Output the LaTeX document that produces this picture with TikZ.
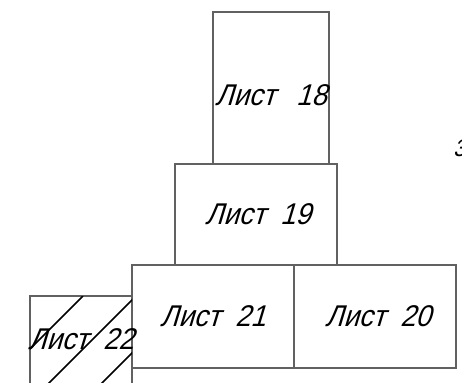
\documentclass[tikz,border=0pt]{standalone}
\usepackage{fontspec}
\setmainfont{Liberation Sans}[FakeSlant=0.3,FakeStretch=0.92]
\begin{document}
\begin{tikzpicture}[x=1pt,y=-1pt,
  sheet/.style={draw=black!62,line width=1.8pt},
  hatch/.style={draw=black,line width=1.6pt},
  lbl/.style={inner sep=0pt,font=\fontsize{30}{30}\selectfont}]
\useasboundingbox (0,0) rectangle (462,382);
% rectangles
\draw[sheet] (213,12) rectangle (329,164);
\draw[sheet] (175,164) rectangle (337,265);
\draw[sheet] (132,265) rectangle (294,368);
\draw[sheet] (294,265) rectangle (456,368);
\draw[sheet] (132,400) -- (30,400) -- (30,296) -- (132,296) -- (132,400);
% hatching
\begin{scope}
\clip (30,296) rectangle (132,400);
\draw[hatch] (83,296) -- (30,349);
\draw[hatch] (136,296) -- (22,410);
\draw[hatch] (189,296) -- (75,410);
\end{scope}
% labels
\node[lbl] (l18) at (271,95) {Лист\hspace{0.7em}18};
\node[lbl] (l19) at (258,214) {Лист\hspace{0.5em}19};
\node[lbl] (l21) at (213,316) {Лист\hspace{0.5em}21};
\node[lbl] (l20) at (378,316) {Лист\hspace{0.5em}20};
\node[lbl] (l22) at (81,339) {Лист\hspace{0.5em}22};
\node[lbl,anchor=west,font=\fontsize{24}{24}\selectfont] (l3) at (453,148) {3};
\end{tikzpicture}
\end{document}
